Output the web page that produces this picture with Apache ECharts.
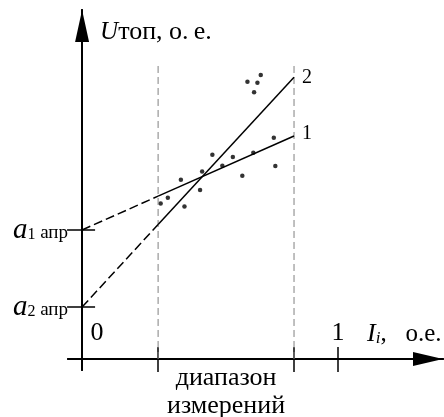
<!DOCTYPE html>
<html><head><meta charset="utf-8">
<script src="https://cdn.jsdelivr.net/npm/echarts@6/dist/echarts.min.js"></script>
<style>html,body{margin:0;padding:0;background:#fff}#c{width:444px;height:417px}</style>
</head><body><div id="c"></div>
<script>
// measured points (I_i, U_топ) in relative units
const ptsX = [0.646, 0.698, 0.685, 0.672, 0.749, 0.755, 0.669, 0.626, 0.589, 0.548, 0.509, 0.469, 0.461, 0.386, 0.335, 0.307, 0.400];
const ptsY = [1.083, 1.109, 1.079, 1.042, 0.864, 0.754, 0.805, 0.716, 0.789, 0.755, 0.798, 0.732, 0.660, 0.700, 0.630, 0.607, 0.596];
// measurement range
const rangeX = [0.297, 0.828];
const rangeTop = 1.16;
// regression lines: x at axis, range start, range end
const lineX = [0, 0.297, 0.828];
const line1Y = [0.504, 0.636, 0.871];
const line2Y = [0.203, 0.525, 1.100];
const lineNames = ['1', '2'];
// ticks and labels
const xTickValues = [0.297, 0.828, 1];
const xTopLabelValues = [0, 1];
const yTickValues = [0.203, 0.504];
const yTickSub = ['2', '1'];
const rangeLabel = 'диапазон\nизмерений';

const SERIF = "'Liberation Serif', 'DejaVu Serif', serif";
const black = '#000';
const xMin = -0.055, xMax = 1.41, yMin = -0.043, yMax = 1.363;
const G = { left: 68, top: 10, width: 375, height: 360 };
// pixel position of the zero lines inside the grid (for the mirrored tick axes)
const zeroY = G.top + G.height * (yMax - 0) / (yMax - yMin);
const zeroX = G.left + G.width * (0 - xMin) / (xMax - xMin);

const chart = echarts.init(document.getElementById('c'), null, { renderer: 'canvas' });

function seg(ys, i0, i1) { return [[lineX[i0], ys[i0]], [lineX[i1], ys[i1]]]; }

const series = [];
rangeX.forEach(function (x) {
  series.push({
    type: 'line', silent: true, symbol: 'none', animation: false,
    xAxisIndex: 1, yAxisIndex: 1,
    data: [[x, 0], [x, rangeTop]],
    lineStyle: { color: '#808080', width: 1, type: [7, 4] }
  });
});
[line1Y, line2Y].forEach(function (ys, k) {
  series.push({
    type: 'line', silent: true, symbol: 'none', animation: false,
    data: seg(ys, 0, 1),
    lineStyle: { color: black, width: 1.5, type: [9, 4] }
  });
  series.push({
    type: 'line', silent: true, symbol: 'none', animation: false,
    data: seg(ys, 1, 2),
    lineStyle: { color: black, width: 1.5 },
    endLabel: { show: true, formatter: lineNames[k], color: black, fontFamily: SERIF, fontSize: 20, distance: 8, offset: [0, k === 0 ? -2 : 0] }
  });
});
series.push({
  type: 'scatter', silent: true, animation: false,
  symbolSize: 4.5,
  itemStyle: { color: black },
  data: ptsX.map(function (x, i) { return [x, ptsY[i]]; })
});

chart.setOption({
  animation: false,
  backgroundColor: '#fff',
  grid: { left: G.left, top: G.top, width: G.width, height: G.height, containLabel: false, outerBoundsMode: 'none' },
  xAxis: [{
    type: 'value', min: xMin, max: xMax, position: 'bottom',
    axisLine: { onZero: true, lineStyle: { color: black, width: 2 }, symbol: ['none', 'triangle'], symbolSize: [14, 30], symbolOffset: [0, -15] },
    axisTick: { show: true, customValues: xTickValues, length: 13, inside: false, lineStyle: { color: black, width: 1.5 } },
    axisLabel: { show: true, customValues: [(rangeX[0] + rangeX[1]) / 2], formatter: function () { return rangeLabel; },
      color: black, fontFamily: SERIF, fontSize: 26, lineHeight: 28, margin: -6 },
    splitLine: { show: false }
  }, {
    type: 'value', min: xMin, max: xMax, position: 'top', offset: -(zeroY - G.top),
    axisLine: { onZero: false, lineStyle: { color: black, width: 2 } },
    axisTick: { show: true, customValues: xTickValues, length: 12, inside: false, lineStyle: { color: black, width: 1.5 } },
    axisLabel: { show: true, customValues: xTopLabelValues, margin: 13, color: black, fontFamily: SERIF, fontSize: 26,
      formatter: function (v) { return v === 0 ? '{z|0}' : '{o|' + v + '}'; },
      rich: { z: { padding: [0, 0, 0, 30], fontFamily: SERIF, fontSize: 26, color: black }, o: { fontFamily: SERIF, fontSize: 26, color: black } } },
    splitLine: { show: false },
    name: '{i|I}{s|i}{t|, \u2002о.е.}', nameLocation: 'end', nameGap: -76, nameMoveOverlap: false,
    nameTextStyle: { align: 'left', verticalAlign: 'bottom', padding: [0, 0, 12, 0],
      rich: { i: { fontFamily: SERIF, fontStyle: 'italic', fontSize: 26, color: black, verticalAlign: 'bottom' },
              s: { fontFamily: SERIF, fontStyle: 'italic', fontSize: 17, color: black, verticalAlign: 'bottom' },
              t: { fontFamily: SERIF, fontSize: 25, color: black, verticalAlign: 'bottom' } } }
  }],
  yAxis: [{
    type: 'value', min: yMin, max: yMax, position: 'left',
    axisLine: { onZero: true, lineStyle: { color: black, width: 2 }, symbol: ['none', 'triangle'], symbolSize: [14, 32], symbolOffset: [0, -16] },
    axisTick: { show: true, customValues: yTickValues, length: 15, inside: false, lineStyle: { color: black, width: 1.5 } },
    axisLabel: { show: true, customValues: yTickValues, margin: 0,
      formatter: function (v) {
        let best = 0;
        yTickValues.forEach(function (t, i) { if (Math.abs(t - v) < Math.abs(yTickValues[best] - v)) best = i; });
        return '{a|a}{d|' + yTickSub[best] + '}{s| апр}';
      },
      rich: { a: { fontFamily: SERIF, fontStyle: 'italic', fontSize: 29, color: black, verticalAlign: 'bottom' },
              d: { fontFamily: SERIF, fontSize: 16, color: black, verticalAlign: 'bottom', padding: [0, 0, 2, 0] },
              s: { fontFamily: SERIF, fontSize: 19, color: black, verticalAlign: 'bottom', padding: [0, 0, 2, 0] } } },
    splitLine: { show: false },
    name: '{u|U}{t|топ, о.\u2009е.}', nameLocation: 'end', nameGap: -22, nameMoveOverlap: false,
    nameTextStyle: { align: 'left', verticalAlign: 'middle', padding: [0, 0, 0, 18],
      rich: { u: { fontFamily: SERIF, fontStyle: 'italic', fontSize: 25, color: black },
              t: { fontFamily: SERIF, fontSize: 26, color: black } } }
  }, {
    type: 'value', min: yMin, max: yMax, position: 'right', offset: -(G.left + G.width - zeroX),
    axisLine: { onZero: false, lineStyle: { color: black, width: 2 } },
    axisTick: { show: true, customValues: yTickValues, length: 13, inside: false, lineStyle: { color: black, width: 1.5 } },
    axisLabel: { show: false },
    splitLine: { show: false }
  }],
  series: series
});
</script>
</body></html>
